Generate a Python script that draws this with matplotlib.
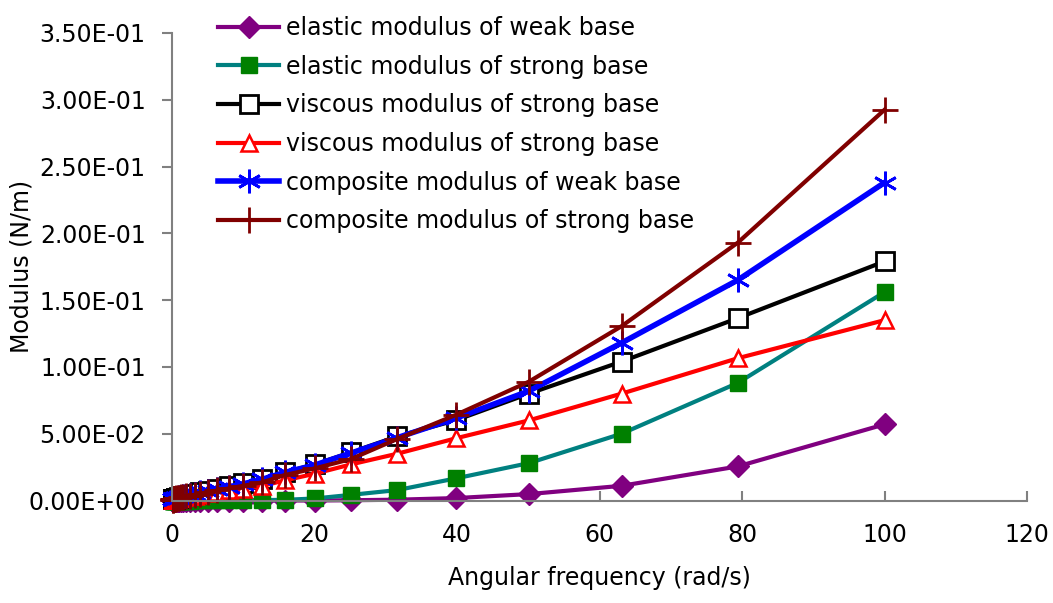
import matplotlib
matplotlib.use('Agg')
import matplotlib.pyplot as plt
from matplotlib.ticker import FuncFormatter

# angular frequency points (rad/s), log spaced
freq = [0.1, 0.126, 0.158, 0.2, 0.251, 0.316, 0.398, 0.501, 0.631, 0.794,
        1.0, 1.26, 1.58, 2.0, 2.51, 3.16, 3.98, 5.01, 6.31, 7.94,
        10.0, 12.6, 15.8, 20.0, 25.1, 31.6, 39.8, 50.1, 63.1, 79.4, 100.0]

elastic_weak = [0.0, 0.0, 0.0, 0.0, 0.0, 0.0, 0.0, 0.0, 0.0, 0.0,
                0.0, 0.0, 0.0, 0.0, 0.0, 0.0, 0.0, 0.0, 0.0, 0.0,
                0.0, 0.0, 0.0, 0.0, 0.0002, 0.0006, 0.0018, 0.0048, 0.011, 0.0255, 0.057]
elastic_strong = [0.0, 0.0, 0.0, 0.0, 0.0, 0.0, 0.0, 0.0, 0.0, 0.0,
                  0.0, 0.0, 0.0, 0.0, 0.0, 0.0001, 0.0001, 0.0001, 0.0001, 0.0002,
                  0.0002, 0.0003, 0.0005, 0.0015, 0.0042, 0.0078, 0.0165, 0.028, 0.050, 0.088, 0.156]
viscous_strong_1 = [0.0008, 0.0009, 0.001, 0.0011, 0.0012, 0.0013, 0.0014, 0.0016, 0.0018, 0.002,
                    0.0023, 0.0026, 0.003, 0.0035, 0.0042, 0.005, 0.006, 0.0072, 0.0088, 0.0105,
                    0.0128, 0.016, 0.021, 0.027, 0.036, 0.048, 0.060, 0.080, 0.104, 0.1365, 0.179]
viscous_strong_2 = [0.0005, 0.0006, 0.0007, 0.0008, 0.0009, 0.001, 0.0011, 0.0012, 0.0014, 0.0016,
                    0.0018, 0.002, 0.0023, 0.0026, 0.003, 0.0036, 0.0044, 0.0054, 0.0066, 0.0078,
                    0.0088, 0.0108, 0.015, 0.020, 0.027, 0.035, 0.0465, 0.060, 0.080, 0.1065, 0.135]
composite_weak = [0.0008, 0.0009, 0.001, 0.0011, 0.0012, 0.0013, 0.0014, 0.0016, 0.0018, 0.002,
                  0.0023, 0.0026, 0.003, 0.0035, 0.0042, 0.005, 0.006, 0.0072, 0.0088, 0.0102,
                  0.0125, 0.0158, 0.021, 0.0265, 0.0355, 0.047, 0.0615, 0.082, 0.118, 0.165, 0.238]
composite_strong = [0.0006, 0.0007, 0.0008, 0.0009, 0.001, 0.0011, 0.0012, 0.0014, 0.0016, 0.0018,
                    0.002, 0.0023, 0.0027, 0.0031, 0.0036, 0.0043, 0.0052, 0.0062, 0.0075, 0.009,
                    0.011, 0.0135, 0.019, 0.024, 0.031, 0.046, 0.064, 0.089, 0.1305, 0.193, 0.2925]

labels = ['elastic modulus of weak base',
          'elastic modulus of strong base',
          'viscous modulus of strong base',
          'viscous modulus of strong base',
          'composite modulus of weak base',
          'composite modulus of strong base']

plt.rcParams['font.family'] = ['DejaVu Sans']

fig = plt.figure(figsize=(10.53, 6.03), dpi=100)
ax = fig.add_axes([172 / 1053, 1 - 500.5 / 603, (1027 - 172) / 1053, (500.5 - 33) / 603])

ax.plot(freq, elastic_weak, color='#800080', lw=3, marker='D', ms=11,
        mfc='#800080', mec='#800080', label=labels[0])
ax.plot(freq, elastic_strong, color='#008080', lw=3, marker='s', ms=12,
        mfc='#008000', mec='#008000', label=labels[1])
ax.plot(freq, viscous_strong_1, color='black', lw=3, marker='s', ms=13,
        mfc='white', mec='black', mew=2, label=labels[2])
ax.plot(freq, viscous_strong_2, color='red', lw=3, marker='^', ms=11,
        mfc='white', mec='red', mew=1.8, label=labels[3])
ax.plot(freq, composite_weak, color='blue', lw=4, marker=(6, 2, 0), ms=17,
        mec='blue', mew=2, label=labels[4])
ax.plot(freq, composite_strong, color='#800000', lw=3, marker='+', ms=19,
        mec='#800000', mew=2, label=labels[5])

ax.set_xlim(0, 120)
ax.set_ylim(0, 0.35)
ax.set_xticks(range(0, 121, 20))
ax.set_yticks([i * 0.05 for i in range(8)])
ax.yaxis.set_major_formatter(FuncFormatter(lambda v, p: '%.2E' % v))

for s in ['top', 'right']:
    ax.spines[s].set_visible(False)
for s in ['left', 'bottom']:
    ax.spines[s].set_color('#808080')
    ax.spines[s].set_linewidth(1.5)
ax.tick_params(axis='y', direction='out', length=7, width=1.5, color='#808080',
               labelsize=17, pad=12)
ax.tick_params(axis='x', direction='in', length=7, width=1.5, color='#808080',
               labelsize=17, pad=16)
for lab in ax.get_xticklabels() + ax.get_yticklabels():
    lab.set_clip_on(False)

ax.set_xlabel('Angular frequency (rad/s)', fontsize=17, labelpad=14)
ax.set_ylabel('Modulus (N/m)', fontsize=17)
ax.yaxis.set_label_coords((34 - 172) / 855, 0.5)
for line in ax.get_lines():
    line.set_clip_on(False)

fig.legend(loc='upper left', bbox_to_anchor=(218 / 1053, 1 - 16 / 603),
           frameon=False, fontsize=17, numpoints=1, handlelength=2.6,
           handletextpad=0.3, labelspacing=0.62, borderaxespad=0, borderpad=0)

fig.savefig('out.png', dpi=100)
